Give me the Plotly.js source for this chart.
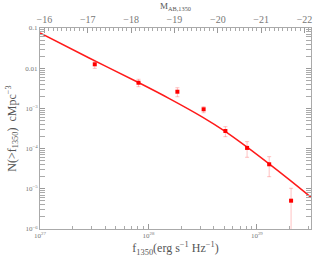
<!DOCTYPE html>
<html>
<head>
<meta charset="utf-8">
<script src="https://cdn.plot.ly/plotly-3.0.1.min.js"></script>
<style>html,body{margin:0;padding:0;background:#fff;}#chart{width:314px;height:258px;}</style>
</head>
<body>
<div id="chart"></div>
<script>
// Observed points: f1350 (erg s^-1 Hz^-1), N(>f1350) (cMpc^-3) with error-bar limits
const obsF    = [3.2e27, 8.1e27, 1.85e28, 3.23e28, 5.13e28, 8.13e28, 1.30e29, 2.07e29];
const obsN    = [0.0125, 4.35e-3, 2.6e-3, 9.5e-4, 2.74e-4, 1.04e-4, 4.07e-5, 5.06e-6];
const obsHigh = [0.0145, 5.30e-3, 3.27e-3, 1.10e-3, 3.51e-4, 1.49e-4, 6.3e-5, 1.03e-5];
const obsLow  = [0.0099, 3.47e-3, 1.95e-3, 7.8e-4, 1.98e-4, 6.08e-5, 2.0e-5, 5e-7];

// Model curve
const modelF = [1e27, 2.84e27, 8.26e27, 1.56e28, 3.18e28, 5.06e28, 8.13e28, 1.29e29, 1.99e29, 3.16e29];
const modelN = [0.0751, 0.01794, 4.28e-3, 1.754e-3, 5.99e-4, 2.716e-4, 1.084e-4, 4.21e-5, 1.684e-5, 6.14e-6];

// Tick labels
const yTickVals = [0.1, 0.01, 1e-3, 1e-4, 1e-5, 1e-6];
const yTickText = ['0.1', '0.01', '10<sup>−3</sup>', '10<sup>−4</sup>', '10<sup>−5</sup>', '10<sup>−6</sup>'];
const xTickVals = [1e27, 1e28, 1e29];
const xTickText = ['10<sup>27</sup>', '10<sup>28</sup>', '10<sup>29</sup>'];
const magTickVals = [-16, -17, -18, -19, -20, -21, -22];

// Conversion between f1350 and M_AB (for the top axis range)
const xMin = 1e27, xMax = 3.16e29;
const magOf = f => -2.5 * Math.log10(f) + 51.6;

const errPlus  = obsN.map((v, i) => obsHigh[i] - v);
const errMinus = obsN.map((v, i) => v - obsLow[i]);

const gray = '#777';
const font = 'Liberation Serif, Times New Roman, serif';

const traces = [
  {
    x: modelF, y: modelN, type: 'scatter', mode: 'lines',
    line: {color: '#ff1a1a', width: 1.5, shape: 'spline'},
    hoverinfo: 'skip', showlegend: false
  },
  {
    x: obsF, y: obsN, type: 'scatter', mode: 'markers',
    marker: {symbol: 'square', size: 4, color: '#ff0000'},
    error_y: {type: 'data', symmetric: false, array: errPlus, arrayminus: errMinus,
              color: 'rgba(255,80,80,0.35)', thickness: 1, width: 2},
    showlegend: false
  },
  {
    x: [magOf(xMin), magOf(xMax)], y: [0.1, 0.1], xaxis: 'x2', yaxis: 'y',
    type: 'scatter', mode: 'markers', marker: {opacity: 0}, hoverinfo: 'skip', showlegend: false
  }
];

const layout = {
  width: 314, height: 258,
  margin: {l: 40, r: 3, t: 28, b: 29},
  paper_bgcolor: '#fff', plot_bgcolor: '#fff',
  font: {family: font, color: gray},
  showlegend: false,
  xaxis: {
    type: 'log', range: [Math.log10(xMin), Math.log10(xMax)],
    tickmode: 'array', tickvals: xTickVals, ticktext: xTickText,
    ticks: 'inside', ticklen: 5, tickcolor: '#999', tickwidth: 1,
    showline: true, linecolor: '#aaa', linewidth: 1, mirror: false,
    showgrid: false, zeroline: false,
    tickfont: {size: 7, color: gray, family: font},
    minor: {ticks: 'inside', ticklen: 3, tickcolor: '#aaa', dtick: 'D1', showgrid: false},
    title: {text: 'f<sub>1350</sub>(erg s<sup>−1</sup> Hz<sup>−1</sup>)', font: {size: 12, color: '#555', family: font}, standoff: 4}
  },
  xaxis2: {
    overlaying: 'x', side: 'top', type: 'linear',
    range: [magOf(xMin), magOf(xMax)],
    tickmode: 'array', tickvals: magTickVals,
    ticks: 'inside', ticklen: 5, tickcolor: '#999', tickwidth: 1,
    showline: true, linecolor: '#aaa', linewidth: 1,
    showgrid: false, zeroline: false,
    tickfont: {size: 10, color: gray, family: font},
    minor: {ticks: 'inside', ticklen: 2.5, tickcolor: '#aaa', dtick: 0.1, tick0: 0, showgrid: false},
    title: {text: 'M<sub>AB,1350</sub>', font: {size: 9, color: '#555', family: font}, standoff: 2}
  },
  yaxis: {
    type: 'log', range: [-6, -1],
    tickmode: 'array', tickvals: yTickVals, ticktext: yTickText,
    ticks: 'inside', ticklen: 5, tickcolor: '#999', tickwidth: 1,
    showline: true, linecolor: '#aaa', linewidth: 1, mirror: 'allticks',
    showgrid: false, zeroline: false,
    tickfont: {size: 7, color: gray, family: font},
    minor: {ticks: 'inside', ticklen: 3, tickcolor: '#aaa', dtick: 'D1', showgrid: false},
    title: {text: 'N(>f<sub>1350</sub>)  cMpc<sup>−3</sup>', font: {size: 12, color: '#555', family: font}, standoff: 6}
  }
};

Plotly.newPlot('chart', traces, layout, {staticPlot: true, displayModeBar: false});
</script>
</body>
</html>
